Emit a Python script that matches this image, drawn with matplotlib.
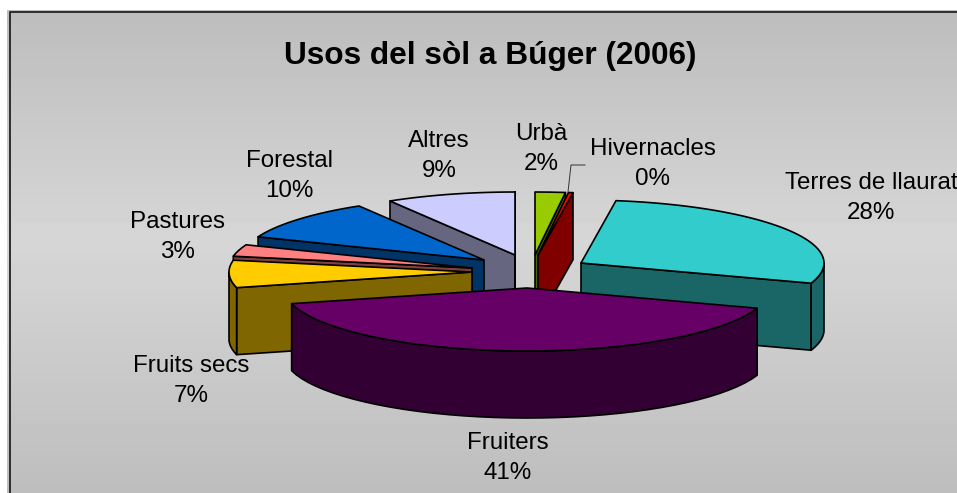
import numpy as np
import matplotlib
matplotlib.use('Agg')
import matplotlib.pyplot as plt
from matplotlib.patches import Polygon

plt.rcParams['font.family'] = ['Liberation Sans', 'DejaVu Sans']

# clockwise from 12 o'clock, as the spreadsheet stacks them
categories = ['Urbà', 'Hivernacles', 'Terres de llaurat', 'Fruiters',
              'Fruits secs', 'Pastures', 'Forestal', 'Altres']
shares = [2.0, 0.3, 27.9, 40.8, 7.0, 3.0, 10.4, 8.6]

top_colors = ['#99CC00', '#FF0000', '#33CCCC', '#660066',
              '#FFCC00', '#FF8080', '#0066CC', '#CCCCFF']
side_colors = ['#4D6600', '#800000', '#1A6666', '#330033',
               '#806600', '#804040', '#003366', '#666680']

# where each exploded slice has its tip, in pixels
tip_x = [535, 538, 581, 527, 472, 472, 484, 515]
tip_y = [255, 255, 263, 288, 272, 268, 260, 255]
label_x = [541, 653, 871, 508, 191, 177, 289, 439]
label_y = [148, 163, 197, 457, 380, 236, 175, 155]

draw_order = [7, 0, 1, 2, 6, 5, 4, 3]
rx, ry, depth = 243, 63, 67

fig = plt.figure(figsize=(9.57, 4.93), dpi=100)
ax = fig.add_axes([0, 0, 1, 1])
ax.axis('off')

# grey band background, lighter around the middle
ys = np.linspace(0, 1, 512)
shade = np.interp(ys, [0, 0.47, 1], [0.74, 0.84, 0.74]).reshape(-1, 1)
ax.imshow(shade, cmap='gray', vmin=0, vmax=1, extent=[7, 970, 500, 10],
          aspect='auto', zorder=0, interpolation='nearest')
ax.set_xlim(0, 957)
ax.set_ylim(493, 0)
ax.plot([9.5, 9.5, 970], [500, 11.5, 11.5], color='#222222', lw=1.3, zorder=1)


def rim_points(tip, theta, drop=0):
    theta = np.asarray(theta)
    return np.column_stack([tip[0] + rx * np.sin(theta),
                            tip[1] - ry * np.cos(theta) + drop])


edges = np.concatenate([[0], np.cumsum(shares)]) / np.sum(shares) * 2 * np.pi
z = 2
for i in draw_order:
    start, end = edges[i], edges[i + 1]
    tip = (tip_x[i], tip_y[i])
    style = dict(edgecolor='black', linewidth=1.2, joinstyle='round')

    # the cut faces that turn towards the viewer
    for angle, visible in ((start, np.sin(start) < 0), (end, np.sin(end) > 0)):
        if visible:
            p = rim_points(tip, [angle])[0]
            quad = [tip, p, (p[0], p[1] + depth), (tip[0], tip[1] + depth)]
            ax.add_patch(Polygon(quad, facecolor=side_colors[i], zorder=z, **style))
            z += 1

    # outer wall, only on the near half of the ellipse
    low, high = max(start, np.pi / 2), min(end, 3 * np.pi / 2)
    if high > low:
        arc = np.linspace(low, high, 40)
        wall = np.vstack([rim_points(tip, arc), rim_points(tip, arc[::-1], depth)])
        ax.add_patch(Polygon(wall, facecolor=side_colors[i], zorder=z, **style))
        z += 1

    arc = np.linspace(start, end, max(3, int((end - start) * 30)))
    top = np.vstack([[tip], rim_points(tip, arc)])
    ax.add_patch(Polygon(top, facecolor=top_colors[i], zorder=z, **style))
    z += 1

ax.plot([568, 571, 585], [192, 165, 165], color='#333333', lw=0.7, zorder=z)

ax.text(490, 56, 'Usos del sòl a Búger (2006)', ha='center', va='center',
        fontsize=22.8, fontweight='bold', color='black', zorder=z + 1)

for name, share, x, y in zip(categories, shares, label_x, label_y):
    ax.text(x, y + 1, '%s\n%d%%' % (name, round(share)), ha='center', va='center',
            fontsize=17.4, linespacing=1.5, color='black', zorder=z + 1)

fig.savefig('out.png', dpi=100, facecolor='white')
